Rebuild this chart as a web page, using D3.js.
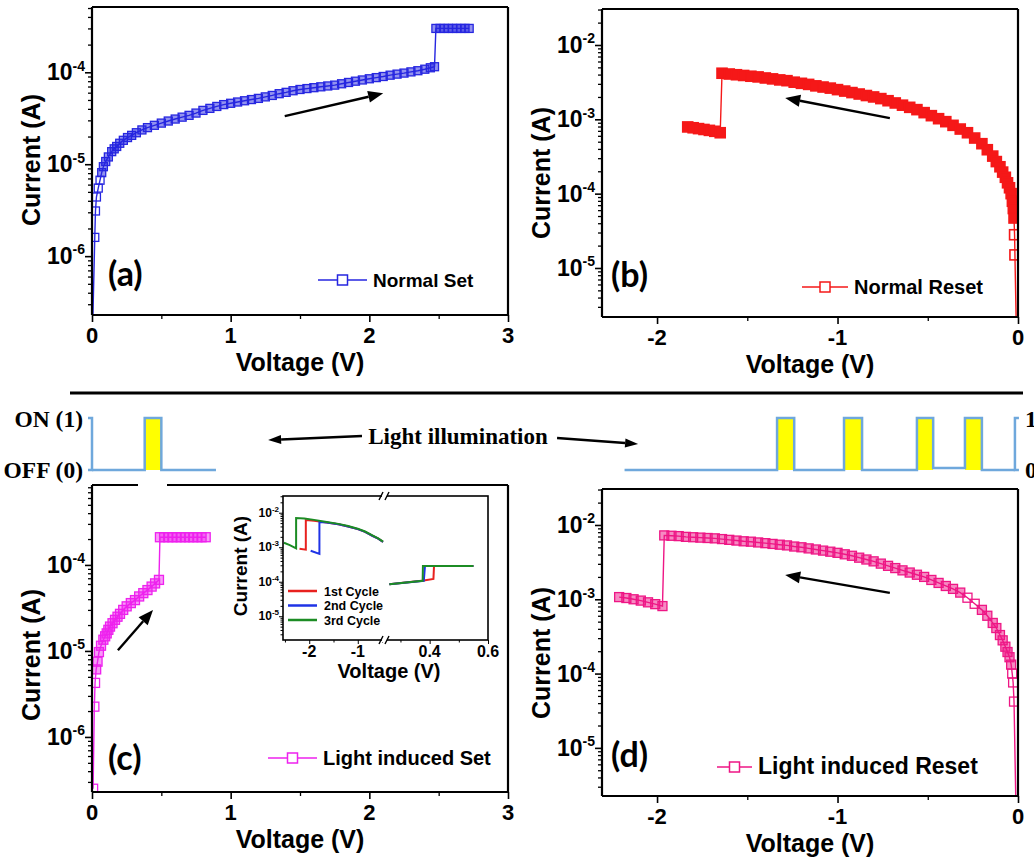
<!DOCTYPE html>
<html>
<head>
<meta charset="utf-8">
<script src="https://cdn.jsdelivr.net/npm/d3@7/dist/d3.min.js"></script>
<style>
  body { margin: 0; background: #fff; }
  text { font-family: "Liberation Sans", Arial, sans-serif; font-weight: bold; fill: #000; }
  .serif { font-family: "Liberation Serif", "Times New Roman", serif; }
  .letter { font-family: Lato, "Open Sans", sans-serif; }
</style>
</head>
<body>
<svg id="fig" width="1034" height="858"></svg>
<script>
// ---- data ----
// (a) normal set sweep
var setV = [0.004, 0.02, 0.025, 0.032, 0.045, 0.058, 0.07, 0.082, 0.099, 0.118, 0.142, 0.16, 0.178, 0.2, 0.226, 0.256, 0.286, 0.32, 0.36, 0.4,
    0.45, 0.5, 0.55, 0.6, 0.65, 0.7, 0.75, 0.8, 0.85, 0.9, 0.95, 1.0, 1.05, 1.1, 1.15, 1.2, 1.25, 1.3, 1.35, 1.4,
    1.45, 1.5, 1.55, 1.6, 1.65, 1.7, 1.75, 1.8, 1.85, 1.9, 1.95, 2.0, 2.05, 2.1, 2.15, 2.2, 2.25, 2.3, 2.35, 2.4,
    2.44, 2.47, 2.48, 2.51, 2.54, 2.57, 2.60, 2.63, 2.66, 2.69, 2.72];
var setI = [1.5e-7, 1.6e-6, 3.1e-6, 4.4e-6, 5.5e-6, 6.7e-6, 8.1e-6, 9.4e-6, 1.07e-5, 1.2e-5, 1.37e-5, 1.47e-5, 1.56e-5, 1.69e-5, 1.82e-5, 1.95e-5, 2.06e-5, 2.2e-5, 2.36e-5, 2.5e-5,
    2.65e-5, 2.8e-5, 2.95e-5, 3.1e-5, 3.25e-5, 3.4e-5, 3.6e-5, 3.85e-5, 4.05e-5, 4.25e-5, 4.45e-5, 4.6e-5, 4.75e-5, 4.9e-5, 5.05e-5, 5.2e-5, 5.4e-5, 5.6e-5, 5.85e-5, 6.05e-5,
    6.3e-5, 6.5e-5, 6.65e-5, 6.8e-5, 6.95e-5, 7.1e-5, 7.25e-5, 7.5e-5, 7.75e-5, 8.0e-5, 8.25e-5, 8.5e-5, 8.75e-5, 9.0e-5, 9.3e-5, 9.55e-5, 9.8e-5, 1.01e-4, 1.04e-4, 1.08e-4,
    1.12e-4, 1.15e-4, 3.0e-4, 3.0e-4, 3.0e-4, 3.0e-4, 3.0e-4, 3.0e-4, 3.0e-4, 3.0e-4, 3.0e-4];

// (b) normal reset sweep
var resetV = [-1.83, -1.80, -1.77, -1.74, -1.71, -1.68, -1.65,
    -1.64, -1.60, -1.56, -1.52, -1.48, -1.44, -1.40, -1.36, -1.32, -1.28, -1.24, -1.20, -1.16, -1.12, -1.08, -1.04, -1.00,
    -0.96, -0.92, -0.88, -0.84, -0.80, -0.76, -0.72, -0.68, -0.64, -0.60, -0.56, -0.52, -0.48, -0.44, -0.40, -0.36, -0.32, -0.28, -0.24, -0.20,
    -0.17, -0.14, -0.12, -0.10, -0.085, -0.07, -0.058, -0.047, -0.038, -0.031, -0.026, -0.022, -0.019, -0.017, -0.008];
var resetI = [7.9e-4, 7.7e-4, 7.5e-4, 7.3e-4, 7.1e-4, 6.9e-4, 6.6e-4,
    4.17e-3, 4.07e-3, 3.98e-3, 3.89e-3, 3.8e-3, 3.72e-3, 3.6e-3, 3.5e-3, 3.39e-3, 3.31e-3, 3.16e-3, 3.05e-3, 2.95e-3, 2.82e-3, 2.72e-3, 2.63e-3, 2.51e-3,
    2.4e-3, 2.29e-3, 2.19e-3, 2.09e-3, 2.0e-3, 1.9e-3, 1.78e-3, 1.66e-3, 1.55e-3, 1.45e-3, 1.35e-3, 1.23e-3, 1.12e-3, 1.02e-3, 9.3e-4, 8.3e-4, 7.4e-4, 6.6e-4, 5.6e-4, 4.7e-4,
    3.9e-4, 3.2e-4, 2.7e-4, 2.3e-4, 1.95e-4, 1.66e-4, 1.4e-4, 1.2e-4, 1.0e-4, 7.9e-5, 6.3e-5, 4.7e-5, 2.8e-5, 1.5e-5, 1.0e-6];

// (c) light induced set sweep
var lsetV = [0.008, 0.017, 0.022, 0.03, 0.04, 0.05, 0.065, 0.082, 0.095, 0.106, 0.118, 0.13, 0.148, 0.166, 0.184, 0.202, 0.225, 0.25, 0.28, 0.31,
    0.34, 0.37, 0.4, 0.43, 0.455, 0.483, 0.49, 0.52, 0.55, 0.58, 0.61, 0.64, 0.67, 0.70, 0.73, 0.76, 0.79, 0.82];
var lsetI = [2.5e-7, 2.25e-6, 4.25e-6, 6.1e-6, 7.5e-6, 9.7e-6, 1.15e-5, 1.35e-5, 1.48e-5, 1.6e-5, 1.76e-5, 1.92e-5, 2.1e-5, 2.3e-5, 2.5e-5, 2.7e-5, 3.0e-5, 3.3e-5, 3.6e-5, 3.9e-5,
    4.3e-5, 4.7e-5, 5.1e-5, 5.6e-5, 6.1e-5, 6.7e-5, 2.1e-4, 2.1e-4, 2.1e-4, 2.1e-4, 2.1e-4, 2.1e-4, 2.1e-4, 2.1e-4, 2.1e-4, 2.1e-4, 2.1e-4, 2.1e-4];

// (d) light induced reset sweep
var lresetV = [-2.21, -2.17, -2.13, -2.09, -2.05, -2.01, -1.97,
    -1.96, -1.92, -1.88, -1.84, -1.80, -1.76, -1.72, -1.68, -1.64, -1.60, -1.56, -1.52, -1.48, -1.44, -1.40, -1.36, -1.32, -1.28, -1.24, -1.20,
    -1.16, -1.12, -1.08, -1.04, -1.00, -0.96, -0.92, -0.88, -0.84, -0.80, -0.76, -0.72, -0.68, -0.64, -0.60, -0.56, -0.52, -0.48, -0.44, -0.40,
    -0.36, -0.32, -0.28, -0.24, -0.20,
    -0.17, -0.14, -0.12, -0.10, -0.085, -0.07, -0.058, -0.047, -0.038, -0.032, -0.027, -0.022, -0.01];
var lresetI = [1.07e-3, 1.04e-3, 1.0e-3, 9.6e-4, 9.1e-4, 8.6e-4, 8.1e-4,
    7.24e-3, 7.16e-3, 7.08e-3, 6.92e-3, 6.84e-3, 6.76e-3, 6.68e-3, 6.61e-3, 6.46e-3, 6.31e-3, 6.17e-3, 6.03e-3, 5.96e-3, 5.82e-3, 5.69e-3, 5.56e-3, 5.43e-3, 5.31e-3, 5.13e-3, 5.01e-3,
    4.84e-3, 4.68e-3, 4.52e-3, 4.37e-3, 4.22e-3, 4.03e-3, 3.85e-3, 3.63e-3, 3.43e-3, 3.24e-3, 3.02e-3, 2.82e-3, 2.63e-3, 2.45e-3, 2.29e-3, 2.14e-3, 2.0e-3, 1.82e-3, 1.66e-3, 1.51e-3,
    1.38e-3, 1.23e-3, 1.05e-3, 8.7e-4, 7.2e-4,
    6.0e-4, 4.8e-4, 4.1e-4, 3.3e-4, 2.8e-4, 2.3e-4, 1.95e-4, 1.66e-4, 1.32e-4, 1.0e-4, 7.6e-5, 4.2e-5, 1.0e-6];

// inset: three cycles, negative branch and positive branch (broken axis)
var cycleNames = ["1st Cycle", "2nd Cycle", "3rd Cycle"];
var cycleNegV = [
    [-2.2, -2.07, -2.07, -1.9, -1.64, -1.4, -1.2, -1.0, -0.85, -0.7, -0.58, -0.48],
    [-1.97, -1.79, -1.79, -1.64, -1.4, -1.2, -1.0, -0.85, -0.7, -0.58, -0.48],
    [-2.52, -2.4, -2.27, -2.27, -2.1, -1.9, -1.64, -1.4, -1.2, -1.0, -0.85, -0.7, -0.58, -0.48]];
var cycleNegI = [
    [9.0e-4, 8.5e-4, 6.1e-3, 5.8e-3, 5.2e-3, 4.6e-3, 4.0e-3, 3.35e-3, 2.8e-3, 2.15e-3, 1.78e-3, 1.43e-3],
    [7.9e-4, 6.4e-4, 5.4e-3, 5.2e-3, 4.6e-3, 4.0e-3, 3.35e-3, 2.8e-3, 2.15e-3, 1.78e-3, 1.42e-3],
    [1.35e-3, 1.15e-3, 9.3e-4, 7.0e-3, 6.8e-3, 6.2e-3, 5.4e-3, 4.75e-3, 4.1e-3, 3.45e-3, 2.85e-3, 2.2e-3, 1.8e-3, 1.45e-3]];
var cyclePosV = [
    [0.262, 0.38, 0.413, 0.415, 0.55],
    [0.262, 0.38, 0.384, 0.55],
    [0.262, 0.376, 0.377, 0.55]];
var cyclePosI = [
    [8.4e-5, 1.08e-4, 1.2e-4, 2.85e-4, 2.85e-4],
    [8.4e-5, 1.07e-4, 2.85e-4, 2.85e-4],
    [8.4e-5, 1.06e-4, 2.85e-4, 2.85e-4]];

// light pulses (voltage windows where light is on)
var pulsesSet = [[0.38, 0.5]];
var pulsesReset = [[-1.335, -1.24], [-0.964, -0.864], [-0.56, -0.47], [-0.294, -0.2]];
var resetOffLevel = [0, 0, 0, 0.04, 0];

var svg = d3.select("#fig");
var defs = svg.append("defs");

function arrow(g, x1, y1, x2, y2, len, half, w) {
    var a = Math.atan2(y2 - y1, x2 - x1);
    var bx = x2 - len * Math.cos(a), by = y2 - len * Math.sin(a);
    g.append("line").attr("x1", x1).attr("y1", y1).attr("x2", bx).attr("y2", by)
        .attr("stroke", "#000").attr("stroke-width", w);
    g.append("path")
        .attr("d", "M" + x2 + "," + y2 + "L" + (bx + half * Math.sin(a)) + "," + (by - half * Math.cos(a)) +
            "L" + (bx - half * Math.sin(a)) + "," + (by + half * Math.cos(a)) + "Z")
        .attr("fill", "#000");
}

function logLabel(g, x, y, d, size, sup) {
    var t = g.append("text").attr("x", x).attr("y", y).attr("text-anchor", "end").attr("font-size", size);
    t.append("tspan").text("10");
    t.append("tspan").attr("dy", -size * 0.42).attr("font-size", sup).text(String(Math.round(Math.log10(d))));
}

function minorLog(dom) {
    var out = [];
    for (var e = Math.floor(Math.log10(dom[0])); e <= Math.ceil(Math.log10(dom[1])); e++) {
        for (var k = 2; k <= 9; k++) {
            var v = k * Math.pow(10, e);
            if (v >= dom[0] && v <= dom[1]) out.push(v);
        }
    }
    return out;
}

function panel(o) {
    var x = d3.scaleLinear().domain(o.xDom).range([o.left, o.right]);
    var y = d3.scaleLog().domain(o.yDom).range([o.bottom, o.top]);
    var g = svg.append("g");

    // ticks (outward, left and bottom only)
    var decades = y.ticks().filter(function(d) { return Math.abs(Math.log10(d) - Math.round(Math.log10(d))) < 1e-9; });
    g.append("g").attr("transform", "translate(" + o.left + ",0)")
        .call(d3.axisLeft(y).tickValues(decades).tickSize(7).tickFormat("").tickSizeOuter(0))
        .call(function(s) { s.select(".domain").remove(); s.selectAll("line").attr("stroke-width", 1.6); });
    g.append("g").attr("transform", "translate(" + o.left + ",0)")
        .call(d3.axisLeft(y).tickValues(minorLog(o.yDom)).tickSize(4).tickFormat("").tickSizeOuter(0))
        .call(function(s) { s.select(".domain").remove(); s.selectAll("line").attr("stroke-width", 1.3); });
    g.append("g").attr("transform", "translate(0," + o.bottom + ")")
        .call(d3.axisBottom(x).tickValues(o.xTicks).tickSize(7).tickFormat("").tickSizeOuter(0))
        .call(function(s) { s.select(".domain").remove(); s.selectAll("line").attr("stroke-width", 1.6); });
    g.append("g").attr("transform", "translate(0," + o.bottom + ")")
        .call(d3.axisBottom(x).tickValues(o.xMinor).tickSize(4).tickFormat("").tickSizeOuter(0))
        .call(function(s) { s.select(".domain").remove(); s.selectAll("line").attr("stroke-width", 1.3); });

    // tick labels
    o.xTicks.forEach(function(v) {
        g.append("text").attr("x", x(v)).attr("y", o.bottom + 28).attr("text-anchor", "middle")
            .attr("font-size", 22).text(String(v));
    });
    decades.forEach(function(d) { logLabel(g, o.left - 7, y(d) + 8, d, 23, 14); });

    // axis titles
    g.append("text").attr("x", (o.left + o.right) / 2).attr("y", o.bottom + 56).attr("text-anchor", "middle")
        .attr("font-size", 25).text("Voltage (V)");
    g.append("text").attr("transform", "translate(" + (o.left - 52) + "," + o.yTitleY + ") rotate(-90)")
        .attr("text-anchor", "middle").attr("font-size", 25).text("Current (A)");

    // data
    var clipId = "clip-" + o.id;
    defs.append("clipPath").attr("id", clipId).append("rect")
        .attr("x", o.left).attr("y", o.top).attr("width", o.right - o.left).attr("height", o.bottom - o.top);
    var gd = g.append("g").attr("clip-path", "url(#" + clipId + ")");
    var pts = o.v.map(function(v, i) { return [v, o.i[i]]; });
    gd.append("path").datum(pts)
        .attr("d", d3.line().x(function(d) { return x(d[0]); }).y(function(d) { return y(d[1]); }))
        .attr("fill", "none").attr("stroke", o.color).attr("stroke-width", 1.4);
    var s = o.msize;
    gd.selectAll("rect.m").data(pts).join("rect").attr("class", "m")
        .attr("x", function(d) { return x(d[0]) - s / 2; })
        .attr("y", function(d) { return y(d[1]) - s / 2; })
        .attr("width", s).attr("height", s)
        .attr("fill", o.color)
        .attr("fill-opacity", function(d, i) {
            var near = [pts[i - 1], pts[i + 1]].some(function(p) {
                return p && Math.hypot(x(p[0]) - x(d[0]), y(p[1]) - y(d[1])) < s * 0.95;
            });
            return near ? o.denseFill : 0;
        })
        .attr("stroke", o.color).attr("stroke-width", o.mstroke);

    // frame
    var f = g.append("g").attr("stroke", "#000").attr("stroke-width", 2.2).attr("fill", "none");
    f.append("line").attr("x1", o.left).attr("y1", o.top).attr("x2", o.left).attr("y2", o.bottom);
    f.append("line").attr("x1", o.left).attr("y1", o.bottom).attr("x2", o.right).attr("y2", o.bottom);
    f.append("line").attr("x1", o.right).attr("y1", o.top).attr("x2", o.right).attr("y2", o.bottom);
    if (o.topGap) {
        f.append("line").attr("x1", o.left).attr("y1", o.top).attr("x2", o.topGap[0]).attr("y2", o.top);
        f.append("line").attr("x1", o.topGap[1]).attr("y1", o.top).attr("x2", o.right).attr("y2", o.top);
    } else {
        f.append("line").attr("x1", o.left).attr("y1", o.top).attr("x2", o.right).attr("y2", o.top);
    }

    // direction arrow
    arrow(g, x(o.arrow[0][0]), y(o.arrow[0][1]), x(o.arrow[1][0]), y(o.arrow[1][1]), 15, 6, 2.4);

    // legend
    var L = o.legend;
    g.append("line").attr("x1", L.x).attr("x2", L.x + L.len).attr("y1", L.y).attr("y2", L.y)
        .attr("stroke", o.color).attr("stroke-width", 1.6);
    g.append("rect").attr("x", L.x + L.len / 2 - 5).attr("y", L.y - 5).attr("width", 10).attr("height", 10)
        .attr("fill", "#fff").attr("stroke", o.color).attr("stroke-width", 1.5);
    g.append("text").attr("x", L.x + L.len + 6).attr("y", L.y + 7).attr("font-size", L.size).text(L.text);

    // panel letter
    g.append("text").attr("class", "letter").attr("x", o.letterX).attr("y", o.letterY)
        .attr("font-size", 34).attr("font-weight", 900).text(o.letter);

    return { x: x, y: y };
}

var pa = panel({
    id: "a", left: 92, right: 508, top: 7, bottom: 315,
    xDom: [0, 3], yDom: [2.29e-7, 5.13e-4], xTicks: [0, 1, 2, 3], xMinor: [0.5, 1.5, 2.5],
    v: setV, i: setI, color: "#2626e0", msize: 8, mstroke: 1.3, denseFill: 0.5,
    yTitleY: 160, arrow: [[1.39, 3.33e-5], [2.10, 5.9e-5]],
    legend: { x: 318, y: 280, len: 49, size: 19, text: "Normal Set" },
    letter: "(a)", letterX: 108, letterY: 286
});

var pb = panel({
    id: "b", left: 602, right: 1018, top: 9, bottom: 317,
    xDom: [-2.305, 0], yDom: [2.19e-6, 3.05e-2], xTicks: [-2, -1, 0], xMinor: [-1.5, -0.5],
    v: resetV, i: resetI, color: "#f51818", msize: 10, mstroke: 1.6, denseFill: 1,
    yTitleY: 173, arrow: [[-0.71, 1.04e-3], [-1.29, 1.94e-3]],
    legend: { x: 802, y: 287, len: 46, size: 20, text: "Normal Reset" },
    letter: "(b)", letterX: 611, letterY: 287
});

var pc = panel({
    id: "c", left: 92, right: 508, top: 485, bottom: 792,
    xDom: [0, 3], yDom: [2.29e-7, 8.5e-4], xTicks: [0, 1, 2, 3], xMinor: [0.5, 1.5, 2.5],
    v: lsetV, i: lsetI, color: "#ee22ee", msize: 9, mstroke: 1.3, denseFill: 0.45,
    yTitleY: 655, arrow: [[0.187, 1.02e-5], [0.44, 3.0e-5]],
    legend: { x: 268, y: 758, len: 49, size: 20, text: "Light induced Set" },
    letter: "(c)", letterX: 108, letterY: 770,
    topGap: [138, 167]
});

var pd = panel({
    id: "d", left: 602, right: 1018, top: 489, bottom: 796,
    xDom: [-2.305, 0], yDom: [2.25e-6, 3.05e-2], xTicks: [-2, -1, 0], xMinor: [-1.5, -0.5],
    v: lresetV, i: lresetI, color: "#ee1685", msize: 9, mstroke: 1.3, denseFill: 0.5,
    yTitleY: 653, arrow: [[-0.71, 1.22e-3], [-1.29, 2.13e-3]],
    legend: { x: 717, y: 767, len: 35, size: 23, text: "Light induced Reset" },
    letter: "(d)", letterX: 611, letterY: 767
});

// ---- inset in (c) ----
(function() {
    var L = 283, R = 488, T = 496, B = 640, brk = 384;
    var xl = d3.scaleLinear().domain([-2.54, -0.46]).range([L, brk]);
    var xr = d3.scaleLinear().domain([0.247, 0.6]).range([brk + 1, R]);
    var y = d3.scaleLog().domain([2.05e-6, 3.05e-2]).range([B, T]);
    var colors = ["#e8211f", "#1f33e6", "#1c8c24"];
    var g = svg.append("g");
    g.append("rect").attr("x", L).attr("y", T).attr("width", R - L).attr("height", B - T).attr("fill", "#fff");

    var decades = [1e-5, 1e-4, 1e-3, 1e-2];
    g.append("g").attr("transform", "translate(" + L + ",0)")
        .call(d3.axisLeft(y).tickValues(decades).tickSize(4).tickFormat("").tickSizeOuter(0))
        .call(function(s) { s.select(".domain").remove(); });
    g.append("g").attr("transform", "translate(" + L + ",0)")
        .call(d3.axisLeft(y).tickValues(minorLog(y.domain())).tickSize(2.5).tickFormat("").tickSizeOuter(0))
        .call(function(s) { s.select(".domain").remove(); });
    [[xl, [-2, -1], [-2.5, -1.5, -0.5]], [xr, [0.4, 0.6], [0.3, 0.5]]].forEach(function(a) {
        g.append("g").attr("transform", "translate(0," + B + ")")
            .call(d3.axisBottom(a[0]).tickValues(a[1]).tickSize(4).tickFormat("").tickSizeOuter(0))
            .call(function(s) { s.select(".domain").remove(); });
        g.append("g").attr("transform", "translate(0," + B + ")")
            .call(d3.axisBottom(a[0]).tickValues(a[2]).tickSize(2.5).tickFormat("").tickSizeOuter(0))
            .call(function(s) { s.select(".domain").remove(); });
        a[1].forEach(function(v) {
            g.append("text").attr("x", a[0](v)).attr("y", B + 17).attr("text-anchor", "middle")
                .attr("font-size", 16).text(String(v));
        });
    });
    decades.forEach(function(d) { logLabel(g, L - 4, y(d) + 4, d, 12, 8); });

    g.append("text").attr("x", 389).attr("y", 678).attr("text-anchor", "middle").attr("font-size", 20).text("Voltage (V)");
    g.append("text").attr("transform", "translate(247,566) rotate(-90)").attr("text-anchor", "middle")
        .attr("font-size", 19).text("Current (A)");

    var lineStep = function(xs) {
        return d3.line().x(function(d) { return xs(d[0]); }).y(function(d) { return y(d[1]); });
    };
    cycleNames.forEach(function(name, k) {
        var neg = cycleNegV[k].map(function(v, i) { return [v, cycleNegI[k][i]]; });
        var pos = cyclePosV[k].map(function(v, i) { return [v, cyclePosI[k][i]]; });
        g.append("path").datum(neg).attr("d", lineStep(xl)).attr("fill", "none").attr("stroke", colors[k]).attr("stroke-width", 2);
        g.append("path").datum(pos).attr("d", lineStep(xr)).attr("fill", "none").attr("stroke", colors[k]).attr("stroke-width", 2);
        var ly = 591 + k * 14.5;
        g.append("line").attr("x1", 288).attr("x2", 317).attr("y1", ly).attr("y2", ly).attr("stroke", colors[k]).attr("stroke-width", 2.5);
        g.append("text").attr("x", 324).attr("y", ly + 4.5).attr("font-size", 12.5).text(name);
    });

    g.append("rect").attr("x", L).attr("y", T).attr("width", R - L).attr("height", B - T)
        .attr("fill", "none").attr("stroke", "#000").attr("stroke-width", 1.6);
    // axis break marks
    [T, B].forEach(function(yy) {
        g.append("rect").attr("x", brk - 2).attr("y", yy - 2).attr("width", 5).attr("height", 4).attr("fill", "#fff");
        g.append("path").attr("d", "M" + (brk - 5) + "," + (yy + 4) + "L" + (brk - 1) + "," + (yy - 4) +
            "M" + (brk + 1) + "," + (yy + 4) + "L" + (brk + 5) + "," + (yy - 4))
            .attr("stroke", "#000").attr("stroke-width", 1.4);
    });
})();

// ---- light illumination strip ----
(function() {
    var g = svg.append("g");
    var lvl = d3.scaleLinear().domain([0, 1]).range([470, 418]);
    var blue = "#6fa8dc";
    g.append("line").attr("x1", 70).attr("x2", 1023).attr("y1", 393).attr("y2", 393)
        .attr("stroke", "#000").attr("stroke-width", 3);

    function signal(xs, start, end, pulses, offs) {
        var p = [[start, offs[0]]];
        pulses.forEach(function(q, i) {
            p.push([q[0], offs[i]], [q[0], 1], [q[1], 1], [q[1], offs[i + 1]]);
        });
        p.push([end, offs[pulses.length]]);
        pulses.forEach(function(q) {
            g.append("rect").attr("x", xs(q[0])).attr("y", lvl(1)).attr("width", xs(q[1]) - xs(q[0]))
                .attr("height", lvl(0) - lvl(1)).attr("fill", "#ffff00");
        });
        g.append("path").datum(p)
            .attr("d", d3.line().x(function(d) { return xs(d[0]); }).y(function(d) { return lvl(d[1]); }))
            .attr("fill", "none").attr("stroke", blue).attr("stroke-width", 2.5);
    }
    signal(pc.x, 0, 0.894, pulsesSet, [0, 0]);
    signal(pd.x, -2.18, -0.017, pulsesReset, resetOffLevel);

    // small signal axes
    var ax = [[pc.x(0), -4], [pd.x(-0.017), 4]];
    ax.forEach(function(a) {
        g.append("path").attr("d", "M" + (a[0] + a[1]) + "," + lvl(1) + "H" + a[0] + "V" + lvl(0) + "H" + (a[0] + a[1]))
            .attr("fill", "none").attr("stroke", blue).attr("stroke-width", 2.5);
    });

    g.append("text").attr("class", "serif").attr("x", 83).attr("y", lvl(1) + 9).attr("text-anchor", "end")
        .attr("font-size", 23.5).text("ON (1)");
    g.append("text").attr("class", "serif").attr("x", 83).attr("y", lvl(0) + 8).attr("text-anchor", "end")
        .attr("font-size", 23.5).text("OFF (0)");
    // right-hand level labels run off the picture edge, as in the original figure
    g.append("text").attr("class", "serif").attr("x", 1025).attr("y", lvl(1) + 9).attr("font-size", 24).text("1");
    g.append("text").attr("class", "serif").attr("x", 1025).attr("y", lvl(0) + 8).attr("font-size", 24).text("0");
    g.append("text").attr("class", "serif").attr("x", 458).attr("y", 444).attr("text-anchor", "middle")
        .attr("font-size", 23).text("Light illumination");
    arrow(g, pc.x(1.947), lvl(0.654), pc.x(1.27), lvl(0.577), 13, 4.5, 2.4);
    arrow(g, pd.x(-2.554), lvl(0.615), pd.x(-2.105), lvl(0.5), 13, 4.5, 2.4);
})();
</script>
</body>
</html>
